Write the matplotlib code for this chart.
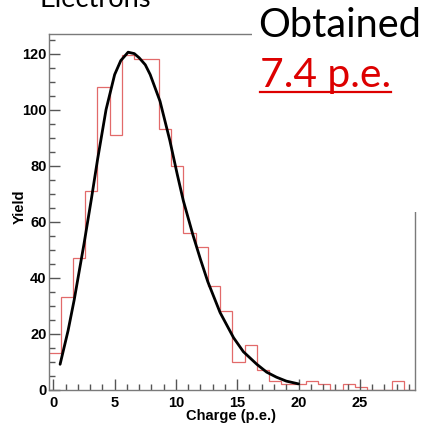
import numpy as np
import matplotlib
matplotlib.use("Agg")
import matplotlib.pyplot as plt
from matplotlib.ticker import MultipleLocator
from matplotlib.patches import Rectangle
from matplotlib.lines import Line2D

# ---- data ----
bin_edges = np.arange(-0.4, 29.7, 1.0)
counts = [13, 33, 47, 71, 108, 91, 119.5, 118, 118, 93,
          80, 56, 51, 37, 28, 10, 16, 7, 3, 2,
          2, 3, 2, 0, 2, 1, 0, 0, 3, 0]

fit_x = [0.55, 1.2, 1.7, 2.5, 3.1, 3.6, 4.3, 5.0, 5.5, 6.1, 6.6, 7.0, 7.5, 7.9,
         8.7, 9.5, 10.1, 10.6, 11.4, 12.0, 12.6, 13.6, 14.7, 15.5, 16.6, 17.4,
         18.2, 19.0, 20.0]
fit_y = [9, 21, 32, 52, 68, 82, 100, 112.5, 117.5, 120.5, 120.0, 118.5, 116, 112.5,
         103, 89, 77, 67.5, 55, 46.5, 38.5, 27.5, 18.5, 13.5, 9.0, 6.2,
         4.4, 3.0, 2.0]

x_ticks = [0, 5, 10, 15, 20, 25]
y_ticks = [0, 20, 40, 60, 80, 100, 120]

W = H = 426
fig = plt.figure(figsize=(W / 100, H / 100), dpi=100)
ax = fig.add_axes([49.3 / W, 1 - 389.5 / H, (415 - 49.3) / W, (389.5 - 34) / H])

ax.stairs(counts, bin_edges, color="#e26a6a", linewidth=0.9, baseline=0)
ax.plot(fit_x, fit_y, color="black", linewidth=2.0, solid_capstyle="round")

ax.set_xlim(-0.33, 29.5)
ax.set_ylim(0, 127)
ax.set_xticks(x_ticks)
ax.set_yticks(y_ticks)
ax.xaxis.set_minor_locator(MultipleLocator(1))
ax.yaxis.set_minor_locator(MultipleLocator(5))

spine_col = "#7a7a7a"
for s in ax.spines.values():
    s.set_color(spine_col)
    s.set_linewidth(1.0)
ax.tick_params(which="both", direction="in", top=False, right=False, color="#555555", width=1.0)
ax.tick_params(which="major", length=8)
ax.tick_params(which="minor", length=4)
ax.tick_params(axis="x", pad=5)
ax.tick_params(axis="y", pad=2)

for lab in ax.get_xticklabels() + ax.get_yticklabels():
    lab.set_fontfamily("Liberation Sans")
    lab.set_fontweight("bold")
    lab.set_fontsize(10.5)

ax.set_xlabel("Charge (p.e.)", family="Liberation Sans", weight="bold", fontsize=10.5, va="center")
ax.xaxis.set_label_coords(0.496, -(416 - 389.5) / 355.5)
ax.set_ylabel("Yield", family="Liberation Sans", weight="bold", fontsize=10.5, va="center")
ax.yaxis.set_label_coords(-(49.3 - 20) / 365.7, (389.5 - 207) / 355.5)

# white text box of the slide covering the top-right part of the frame
fig.patches.append(Rectangle((252 / W, 1 - 212 / H), 1, 1, transform=fig.transFigure,
                             facecolor="white", edgecolor="none", zorder=5))


def fit_text(x_px, base_px, s, width_px, **kw):
    t = fig.text(x_px / W, 1 - base_px / H, s, va="baseline", ha="left", zorder=10, **kw)
    fig.canvas.draw()
    bb = t.get_window_extent()
    t.set_fontsize(t.get_fontsize() * width_px / bb.width)
    fig.canvas.draw()
    return t


fit_text(40, 7, "Electrons", 112, family="Lato", fontsize=20, color="black")
fit_text(258, 37, "Obtained", 163, family="Lato", fontsize=30, color="black")
t = fit_text(260, 87, "7.4 p.e.", 131, family="Lato", fontsize=20, color="#dd0000")
bb = t.get_window_extent()
fig.lines.append(Line2D([bb.x0 / W, bb.x1 / W], [1 - 92 / H, 1 - 92 / H],
                        transform=fig.transFigure, color="#dd0000", linewidth=1.6, zorder=10))

fig.savefig("out.png", dpi=100)
